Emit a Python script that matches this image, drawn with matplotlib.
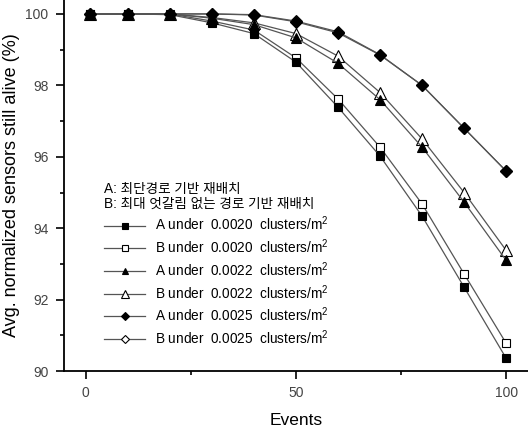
import matplotlib
matplotlib.use("Agg")
import matplotlib.pyplot as plt

plt.rcParams['font.family'] = ['Liberation Sans', 'Noto Sans CJK KR', 'DejaVu Sans']
plt.rcParams['mathtext.fontset'] = 'custom'
plt.rcParams['mathtext.rm'] = 'Liberation Sans'

events = [1, 10, 20, 30, 40, 50, 60, 70, 80, 90, 100]

a_0020 = [100, 100, 99.98, 99.75, 99.45, 98.65, 97.39, 96.02, 94.34, 92.35, 90.36]
b_0020 = [100, 100, 100, 99.8, 99.55, 98.77, 97.62, 96.27, 94.68, 92.72, 90.78]
a_0022 = [100, 100, 100, 99.88, 99.7, 99.33, 98.62, 97.6, 96.27, 94.73, 93.1]
b_0022 = [100, 100, 100, 99.9, 99.75, 99.45, 98.82, 97.8, 96.5, 95.0, 93.38]
a_0025 = [100, 100, 100, 100, 99.97, 99.78, 99.47, 98.85, 98.0, 96.8, 95.6]
b_0025 = [100, 100, 100, 100, 99.98, 99.8, 99.5, 98.86, 98.0, 96.8, 95.6]

labels = ["A under  0.0020  clusters/m$^{2}$", "B under  0.0020  clusters/m$^{2}$",
          "A under  0.0022  clusters/m$^{2}$", "B under  0.0022  clusters/m$^{2}$",
          "A under  0.0025  clusters/m$^{2}$", "B under  0.0025  clusters/m$^{2}$"]
header = "A: 최단경로 기반 재배치\nB: 최대 엇갈림 없는 경로 기반 재배치"

fig = plt.figure(figsize=(5.28, 4.29), dpi=100)
ax = fig.add_axes([0.121, 0.135, 0.879, 0.865])

series = [a_0020, b_0020, a_0022, b_0022, a_0025, b_0025]
markers = ['s', 's', '^', '^', 'D', 'D']
fills = ['black', 'white', 'black', 'white', 'black', 'white']
sizes = [6, 6, 7, 8, 6.5, 6.5]
order = [1, 0, 3, 2, 5, 4]  # open ones first, filled on top

handles = [None] * 6
for i in order:
    h, = ax.plot(events, series[i], color='#555555', lw=0.9,
                 marker=markers[i], markersize=sizes[i],
                 markerfacecolor=fills[i], markeredgecolor='black',
                 markeredgewidth=0.8, label=labels[i])
    handles[i] = h

ax.set_xlim(-5.2, 105.2)
ax.set_ylim(90, 100.39)
ax.set_xticks([0, 50, 100])
ax.set_xticks([25, 75], minor=True)
ax.set_yticks([90, 92, 94, 96, 98, 100])
ax.set_yticks([91, 93, 95, 97, 99], minor=True)
ax.tick_params(which='major', length=6, width=1.2, labelsize=10, colors='black', pad=5)
ax.tick_params(which='minor', length=3, width=1.2)
ax.tick_params(axis='both', labelcolor='#444444')
ax.spines['top'].set_visible(False)
ax.spines['right'].set_visible(False)
ax.spines['left'].set_linewidth(1.3)
ax.spines['bottom'].set_linewidth(1.3)

ax.set_xlabel("Events", fontsize=12.5, labelpad=9)
ax.set_ylabel("Avg. normalized sensors still alive (%)", fontsize=13, labelpad=4)

leg = ax.legend(handles=handles, labels=labels, title=header, loc='upper left',
                bbox_to_anchor=(0.075, 0.525), frameon=False, fontsize=9.8,
                title_fontsize=9.8, handlelength=3.0, handletextpad=0.7,
                labelspacing=0.3, borderaxespad=0, markerscale=0.7)
leg._legend_box.align = 'left'
leg.get_title().set_linespacing(1.1)

fig.savefig("out.png", dpi=100)
